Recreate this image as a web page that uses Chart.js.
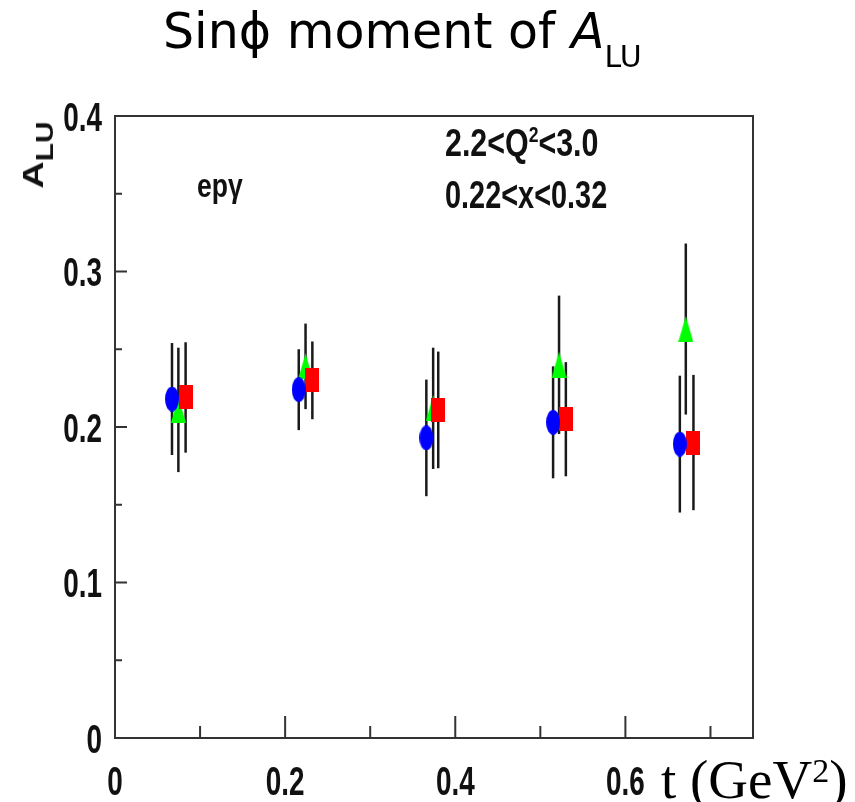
<!DOCTYPE html>
<html>
<head>
<meta charset="utf-8">
<script src="https://cdn.jsdelivr.net/npm/chart.js@4.4.1/dist/chart.umd.min.js"></script>
<style>
  html, body { margin: 0; padding: 0; background: #fff; }
  #wrap { position: relative; width: 855px; height: 802px; overflow: hidden; }
  #chart { position: absolute; left: 0; top: 0; }
  .lbl { position: absolute; white-space: nowrap; color: #111; line-height: 1; }
  .root { font-family: 'Liberation Sans', Arial, sans-serif; font-weight: bold; transform-origin: 0 0; }
  #title { left: 163px; top: 7px; font-family: 'DejaVu Sans', sans-serif; font-size: 49px; color: #000; }
  #title sub { font-size: 30px; vertical-align: -19px; }
  #ytitle { left: 38px; top: 155px; font-size: 29px; transform-origin: 50% 50%; transform: translate(-50%, -50%) rotate(-90deg) scaleX(1.3); }
  #ytitle sub { font-size: 23px; vertical-align: -10px; }
  #xtitle { left: 661px; top: 752px; font-family: 'Liberation Serif', 'Times New Roman', serif; font-size: 55px; color: #000; }
  #xtitle sup { font-size: 34px; vertical-align: 16px; }
  #ep { left: 197px; top: 168px; font-size: 34px; transform: scaleX(0.78); }
  #q2 { left: 445px; top: 124px; font-size: 38px; transform: scaleX(0.8); }
  #q2 sup { font-size: 22px; vertical-align: 14px; }
  #xb { left: 445px; top: 176px; font-size: 38px; transform: scaleX(0.76); }
</style>
</head>
<body>
<div id="wrap">
  <canvas id="chart" width="855" height="802"></canvas>
  <div id="title" class="lbl">Sinϕ moment of <i>A</i><sub>LU</sub></div>
  <div id="ytitle" class="lbl root">A<sub>LU</sub></div>
  <div id="xtitle" class="lbl">t (GeV<sup>2</sup>)</div>
  <div id="ep" class="lbl root">epγ</div>
  <div id="q2" class="lbl root">2.2&lt;Q<sup>2</sup>&lt;3.0</div>
  <div id="xb" class="lbl root">0.22&lt;x&lt;0.32</div>
</div>
<script>
// sin(phi) moment of A_LU vs t, three sets of points
const tBlue = [0.067, 0.216, 0.366, 0.515, 0.664];
const aBlue = [0.218, 0.224, 0.193, 0.203, 0.189];
const eBlue = [0.036, 0.026, 0.0375, 0.036, 0.044];

const tGreen = [0.0745, 0.224, 0.374, 0.522, 0.671];
const aGreen = [0.211, 0.239, 0.212, 0.240, 0.263];
const eGreen = [0.040, 0.0275, 0.039, 0.0445, 0.055];

const tRed = [0.083, 0.232, 0.380, 0.530, 0.680];
const aRed = [0.219, 0.230, 0.211, 0.205, 0.190];
const eRed = [0.0355, 0.025, 0.0375, 0.0367, 0.0435];

const xTicks = [0, 0.2, 0.4, 0.6];
const yTicks = [0, 0.1, 0.2, 0.3, 0.4];

const tickFont = "'Liberation Sans', Arial, sans-serif";

function makeMarker(shape, color, w, h) {
  const c = document.createElement('canvas');
  c.width = w;
  c.height = h;
  const ctx = c.getContext('2d');
  ctx.fillStyle = color;
  ctx.beginPath();
  if (shape === 'ellipse') {
    ctx.ellipse(w / 2, h / 2, w / 2, h / 2, 0, 0, Math.PI * 2);
  } else if (shape === 'triangle') {
    ctx.moveTo(w / 2, 0);
    ctx.lineTo(w, h);
    ctx.lineTo(0, h);
    ctx.closePath();
  } else {
    ctx.rect(0, 0, w, h);
  }
  ctx.fill();
  return c;
}

const toPoints = (xs, ys) => xs.map((x, i) => ({ x, y: ys[i] }));

// vertical error bars, drawn under the markers
const errorBars = {
  id: 'errorBars',
  beforeDatasetsDraw(chart) {
    const ctx = chart.ctx;
    const y = chart.scales.y;
    ctx.save();
    ctx.strokeStyle = '#1a1a1a';
    ctx.lineWidth = 2.5;
    chart.data.datasets.forEach((ds, i) => {
      chart.getDatasetMeta(i).data.forEach((pt, j) => {
        const v = ds.data[j].y;
        const e = ds.errors[j];
        ctx.beginPath();
        ctx.moveTo(pt.x, y.getPixelForValue(v + e));
        ctx.lineTo(pt.x, y.getPixelForValue(v - e));
        ctx.stroke();
      });
    });
    ctx.restore();
  },
};

// ROOT style frame with inward ticks
const rootFrame = {
  id: 'rootFrame',
  afterDatasetsDraw(chart) {
    const { ctx, chartArea: a, scales: { x, y } } = chart;
    ctx.save();
    ctx.strokeStyle = '#333';
    ctx.lineWidth = 2;
    ctx.strokeRect(a.left, a.top, a.right - a.left, a.bottom - a.top);
    ctx.beginPath();
    y.ticks.forEach((t) => {
      const p = y.getPixelForValue(t.value);
      ctx.moveTo(a.left, p);
      ctx.lineTo(a.left + 12, p);
    });
    for (let i = 0; i < yTicks.length - 1; i++) {
      const p = y.getPixelForValue((yTicks[i] + yTicks[i + 1]) / 2);
      ctx.moveTo(a.left, p);
      ctx.lineTo(a.left + 7, p);
    }
    x.ticks.forEach((t) => {
      const p = x.getPixelForValue(t.value);
      ctx.moveTo(p, a.bottom);
      ctx.lineTo(p, a.bottom - 22);
    });
    xTicks.forEach((v) => {
      if (v + 0.1 < x.max) {
        const p = x.getPixelForValue(v + 0.1);
        ctx.moveTo(p, a.bottom);
        ctx.lineTo(p, a.bottom - 12);
      }
    });
    ctx.stroke();
    ctx.restore();
  },
};

// tick labels in a squeezed bold face, placed from the scales
const condensedLabels = {
  id: 'condensedLabels',
  afterDraw(chart) {
    const { ctx, chartArea: a, scales: { x, y } } = chart;
    const size = 41;
    const half = size * 0.358;
    ctx.save();
    ctx.fillStyle = '#111';
    ctx.font = `bold ${size}px ${tickFont}`;
    ctx.textBaseline = 'alphabetic';
    y.ticks.forEach((t) => {
      ctx.save();
      ctx.translate(a.left - 13, y.getPixelForValue(t.value) + half);
      ctx.scale(0.68, 1);
      ctx.textAlign = 'right';
      ctx.fillText(t.label || String(t.value), 0, 0);
      ctx.restore();
    });
    x.ticks.forEach((t) => {
      ctx.save();
      ctx.translate(x.getPixelForValue(t.value), 780 + half);
      ctx.scale(0.68, 1);
      ctx.textAlign = 'center';
      ctx.fillText(t.label || String(t.value), 0, 0);
      ctx.restore();
    });
    ctx.restore();
  },
};

new Chart(document.getElementById('chart'), {
  type: 'scatter',
  data: {
    datasets: [
      {
        label: 'blue',
        data: toPoints(tBlue, aBlue),
        errors: eBlue,
        pointStyle: makeMarker('ellipse', '#0000ff', 14, 25),
      },
      {
        label: 'red',
        data: toPoints(tRed, aRed),
        errors: eRed,
        pointStyle: makeMarker('rect', '#ff0000', 14, 24),
      },
      {
        label: 'green',
        data: toPoints(tGreen, aGreen),
        errors: eGreen,
        pointStyle: makeMarker('triangle', '#00ff00', 15, 26),
      },
    ],
  },
  options: {
    responsive: false,
    animation: false,
    devicePixelRatio: 1,
    layout: { padding: { left: 0, right: 102, top: 116, bottom: 0 } },
    plugins: { legend: { display: false }, tooltip: { enabled: false } },
    scales: {
      x: {
        type: 'linear',
        min: 0,
        max: 0.75,
        afterBuildTicks: (s) => { s.ticks = xTicks.map((v) => ({ value: v })); },
        afterFit: (s) => { s.height = 64; },
        grid: { display: false, drawTicks: false },
        border: { display: false },
        ticks: { display: false },
      },
      y: {
        min: 0,
        max: 0.4,
        afterBuildTicks: (s) => { s.ticks = yTicks.map((v) => ({ value: v })); },
        afterFit: (s) => { s.width = 115; },
        grid: { display: false, drawTicks: false },
        border: { display: false },
        ticks: { display: false },
      },
    },
  },
  plugins: [errorBars, rootFrame, condensedLabels],
});
</script>
</body>
</html>
